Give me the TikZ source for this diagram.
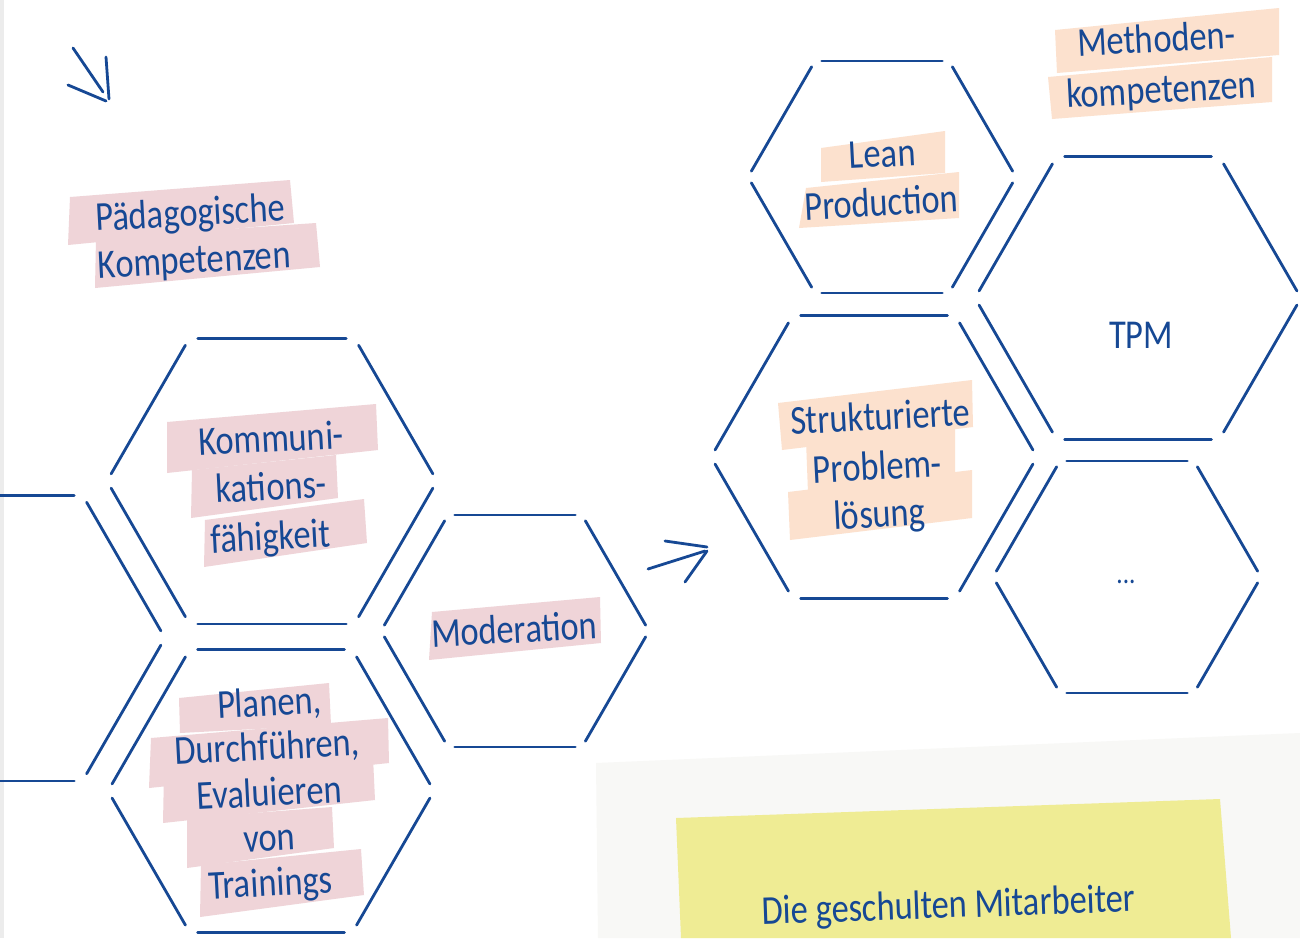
\documentclass[tikz,border=0pt]{standalone}
\usepackage{fontspec}
\newfontfamily\hand{Carlito}[FakeStretch=0.84]
\usetikzlibrary{calc}
\definecolor{ink}{RGB}{22,72,148}
\definecolor{pinkhl}{RGB}{239,212,216}
\definecolor{peachhl}{RGB}{252,225,206}
\definecolor{notey}{RGB}{239,236,148}
\definecolor{notegray}{RGB}{248,248,246}
\definecolor{edgegray}{RGB}{236,236,236}
\tikzset{
  hexline/.style={draw=ink, line width=2.8pt, line cap=round},
  pics/hexa/.style={code={
    \foreach \a in {0,60,...,300}{
      \draw[hexline] ($(\a:#1)!0.05!(\a+60:#1)$) -- ($(\a:#1)!0.95!(\a+60:#1)$);
    }}},
  lbl/.style={inner sep=0pt, anchor=base, text=ink, font=\hand\fontsize{41}{46}\selectfont, rotate=3},
  pinkbox/.style={fill=pinkhl},
  peachbox/.style={fill=peachhl},
  sketch/.style={draw=ink, line width=2.8pt, line cap=round},
}
\begin{document}
\begin{tikzpicture}[x=1pt,y=-1pt]
\useasboundingbox (0,0) rectangle (1300,938);
\clip (0,0) rectangle (1300,938);
\fill[white] (0,0) rectangle (1300,938);
\fill[edgegray] (0,0) rectangle (4,938);

% sticky note area
\fill[notegray] (596,763) -- (1300,733) -- (1300,938) -- (598,938) -- cycle;
\fill[notey] (676,818) -- (1220,799) -- (1231,938) -- (681,938) -- cycle;

% highlight boxes (left, pink)
\fill[pinkbox] (70,197) -- (290,180) -- (294,223) -- (68,245) -- cycle;
\fill[pinkbox] (96,238) -- (316,223) -- (320,267) -- (95,288) -- cycle;
\fill[pinkbox] (167,422) -- (376,404) -- (378,450) -- (167,473) -- cycle;
\fill[pinkbox] (192,470) -- (336,455) -- (338,498) -- (191,518) -- cycle;
\fill[pinkbox] (205,520) -- (364,499) -- (367,543) -- (204,567) -- cycle;
\fill[pinkbox] (432,612) -- (600,597) -- (601,643) -- (429,660) -- cycle;
\fill[pinkbox] (179,698) -- (329,683) -- (331,725) -- (180,733) -- cycle;
\fill[pinkbox] (151,738) -- (388,718) -- (389,763) -- (149,788) -- cycle;
\fill[pinkbox] (164,772) -- (373,757) -- (375,800) -- (163,823) -- cycle;
\fill[pinkbox] (187,818) -- (332,807) -- (334,848) -- (187,868) -- cycle;
\fill[pinkbox] (201,865) -- (361,849) -- (364,895) -- (200,917) -- cycle;

% highlight boxes (right, peach)
\fill[peachbox] (1055,30) -- (1279,8) -- (1279,55) -- (1057,73) -- cycle;
\fill[peachbox] (1048,77) -- (1272,57) -- (1272,102) -- (1052,119) -- cycle;
\fill[peachbox] (821,148) -- (945,131) -- (945,173) -- (821,182) -- cycle;
\fill[peachbox] (806,188) -- (959,172) -- (959,218) -- (799,228) -- cycle;
\fill[peachbox] (778,403) -- (972,380) -- (973,427) -- (782,450) -- cycle;
\fill[peachbox] (806,440) -- (955,428) -- (955,477) -- (808,493) -- cycle;
\fill[peachbox] (788,492) -- (972,470) -- (972,518) -- (790,540) -- cycle;

% hexagons
\pic (h0) at (0,638) {hexa=165};
\pic (h1) at (272,481) {hexa=165};
\pic (h2) at (271,791) {hexa=163};
\pic (h3) at (515,631) {hexa=134};
\pic (h4) at (882,177) {hexa=134};
\pic (h5) at (1138,298) {hexa=163};
\pic (h6) at (874,457) {hexa=163};
\pic (h7) at (1127,577) {hexa=134};

% arrows
\coordinate (a1s) at (73,48);
\coordinate (a1e) at (103,92);
\coordinate (a1r1) at (106,57);
\coordinate (a1r2) at (109,99);
\coordinate (a1l1) at (68,85);
\coordinate (a1l2) at (106,101);
\draw[sketch] (a1s) -- (a1e);
\draw[sketch] (a1r1) -- (a1r2);
\draw[sketch] (a1l1) -- (a1l2);

\coordinate (a2s) at (648,569);
\coordinate (a2e) at (705,551);
\coordinate (a2u1) at (665,541);
\coordinate (a2u2) at (707,547);
\coordinate (a2d1) at (685,582);
\coordinate (a2d2) at (707,551);
\draw[sketch] (a2s) -- (a2e);
\draw[sketch] (a2u1) -- (a2u2);
\draw[sketch] (a2d1) -- (a2d2);

% labels
\node[lbl] (pk1) at (191,226) {Pädagogische};
\node[lbl] (pk2) at (195,273) {Kompetenzen};
\node[lbl] (ko1) at (272,452) {Kommuni-};
\node[lbl] (ko2) at (272,500) {kations-};
\node[lbl] (ko3) at (271,550) {fähigkeit};
\node[lbl] (mod) at (515,643) {Moderation};
\node[lbl] (pl1) at (270,716) {Planen,};
\node[lbl] (pl2) at (268,760) {Durchführen,};
\node[lbl] (pl3) at (270,806) {Evaluieren};
\node[lbl] (pl4) at (270,851) {von};
\node[lbl] (pl5) at (271,896) {Trainings};
\node[lbl] (le1) at (883,167) {Lean};
\node[lbl] (le2) at (882,216) {Production};
\node[lbl] (mk1) at (1157,52) {Methoden-};
\node[lbl] (mk2) at (1162,103) {kompetenzen};
\node[lbl,rotate=-3] (tpm) at (1141,348) {TPM};
\node[lbl] (sp1) at (881,430) {Strukturierte};
\node[lbl] (sp2) at (878,480) {Problem-};
\node[lbl] (sp3) at (880,527) {lösung};
\node[lbl,rotate=-3,font=\hand\fontsize{30}{34}\selectfont] (dots) at (1126,583) {...};
\node[lbl,rotate=-1] (note) at (949,918) {Die geschulten Mitarbeiter};
\end{tikzpicture}
\end{document}
